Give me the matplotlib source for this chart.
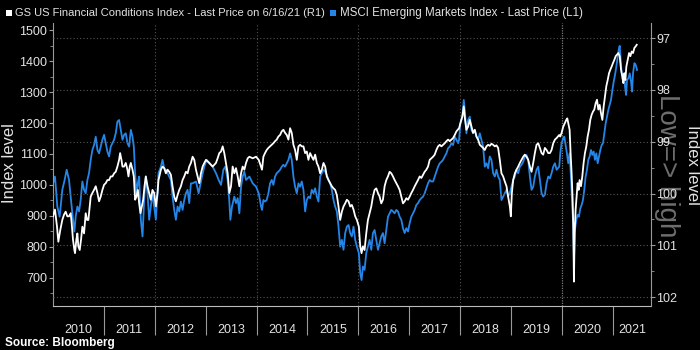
import matplotlib
matplotlib.use("Agg")
import matplotlib.pyplot as plt
from matplotlib.patches import Rectangle
from matplotlib.ticker import MultipleLocator

plt.rcParams['font.family'] = ['Liberation Sans', 'DejaVu Sans']

# MSCI Emerging Markets Index (left axis), dates as decimal years
em_dates = [
    2010.000, 2010.039, 2010.085, 2010.131, 2010.183, 2010.229, 2010.269, 2010.315, 2010.348, 2010.393,
    2010.420, 2010.446, 2010.479, 2010.512, 2010.544, 2010.577, 2010.610, 2010.643, 2010.676, 2010.708,
    2010.741, 2010.774, 2010.807, 2010.840, 2010.873, 2010.905, 2010.938, 2010.971, 2011.004, 2011.037,
    2011.069, 2011.102, 2011.135, 2011.168, 2011.201, 2011.233, 2011.266, 2011.299, 2011.332, 2011.365,
    2011.397, 2011.430, 2011.463, 2011.496, 2011.529, 2011.562, 2011.588, 2011.614, 2011.640, 2011.667,
    2011.693, 2011.726, 2011.759, 2011.791, 2011.824, 2011.857, 2011.890, 2011.922, 2011.955, 2011.988,
    2012.021, 2012.054, 2012.073,
    2012.120, 2012.152, 2012.185, 2012.218, 2012.251, 2012.284, 2012.317, 2012.349, 2012.382, 2012.415,
    2012.448, 2012.481, 2012.513, 2012.546, 2012.579, 2012.612, 2012.645, 2012.677, 2012.710, 2012.743,
    2012.809, 2012.861, 2012.887, 2012.927, 2012.973, 2013.019, 2013.071, 2013.137, 2013.202, 2013.255,
    2013.301, 2013.347, 2013.386, 2013.432, 2013.465, 2013.485, 2013.517, 2013.563, 2013.596, 2013.629,
    2013.662, 2013.695, 2013.727, 2013.760, 2013.793, 2013.859, 2013.924, 2013.990, 2014.042,
    2014.088, 2014.107, 2014.134, 2014.166, 2014.199, 2014.232, 2014.265, 2014.298, 2014.330, 2014.363,
    2014.396, 2014.429, 2014.462, 2014.495, 2014.527, 2014.560, 2014.593, 2014.626, 2014.659, 2014.691,
    2014.724, 2014.757, 2014.790, 2014.823, 2014.855, 2014.888, 2014.921, 2014.954, 2014.987, 2015.019,
    2015.052, 2015.085, 2015.118, 2015.151, 2015.184, 2015.216, 2015.249, 2015.282, 2015.315, 2015.348,
    2015.380, 2015.413, 2015.446, 2015.479, 2015.512, 2015.544, 2015.577, 2015.610, 2015.643, 2015.676,
    2015.708, 2015.741, 2015.774, 2015.807, 2015.840, 2015.872, 2015.905, 2015.938, 2015.971, 2016.010,
    2016.037, 2016.063, 2016.089, 2016.122, 2016.155, 2016.188, 2016.221, 2016.254, 2016.286, 2016.319,
    2016.352, 2016.385, 2016.418, 2016.450, 2016.483, 2016.516, 2016.549, 2016.582, 2016.614, 2016.647,
    2016.680, 2016.713, 2016.746, 2016.778, 2016.811, 2016.844, 2016.877, 2016.910, 2016.943, 2016.975,
    2017.008, 2017.041, 2017.074, 2017.107, 2017.139, 2017.172, 2017.205, 2017.238, 2017.271, 2017.303,
    2017.336, 2017.369, 2017.402, 2017.435, 2017.468, 2017.500, 2017.533, 2017.566, 2017.599, 2017.632,
    2017.664, 2017.697, 2017.730, 2017.763, 2017.796, 2017.829, 2017.861, 2017.894, 2017.927, 2017.960,
    2017.979,
    2018.005, 2018.044, 2018.071, 2018.097, 2018.123, 2018.156, 2018.189, 2018.222, 2018.254, 2018.287,
    2018.320, 2018.353, 2018.386, 2018.418, 2018.451, 2018.484, 2018.517, 2018.550, 2018.582, 2018.615,
    2018.648, 2018.681, 2018.714, 2018.746, 2018.779, 2018.812, 2018.845, 2018.878, 2018.911, 2018.943,
    2018.976, 2019.009, 2019.042, 2019.075, 2019.107, 2019.140, 2019.173, 2019.206, 2019.239, 2019.271,
    2019.304, 2019.337, 2019.370, 2019.403, 2019.436, 2019.468, 2019.501, 2019.534, 2019.567, 2019.600,
    2019.632, 2019.665, 2019.698, 2019.731, 2019.764, 2019.796, 2019.829, 2019.862, 2019.895, 2019.947,
    2019.967, 2019.993, 2020.026, 2020.046, 2020.072, 2020.098, 2020.124, 2020.151, 2020.177, 2020.203,
    2020.223, 2020.236, 2020.256, 2020.282, 2020.308, 2020.334, 2020.361, 2020.387, 2020.413, 2020.439,
    2020.466, 2020.492, 2020.518, 2020.544, 2020.571, 2020.597, 2020.623, 2020.649, 2020.676, 2020.702,
    2020.728, 2020.754, 2020.781, 2020.807, 2020.833, 2020.859, 2020.886, 2020.912, 2020.938, 2020.964,
    2020.991, 2021.017, 2021.043, 2021.069, 2021.096, 2021.115, 2021.135, 2021.155, 2021.174, 2021.201,
    2021.220, 2021.240, 2021.260, 2021.279, 2021.306, 2021.332, 2021.358, 2021.378, 2021.397, 2021.424,
    2021.450, 2021.476,
]
em_level = [
    1005, 1027, 930, 897, 984, 1016, 1049, 1016, 962, 887,
    849, 898, 930, 914, 951, 1011, 984, 973, 1016, 1038,
    1081, 1113, 1129, 1156, 1113, 1102, 1124, 1146, 1162, 1135,
    1108, 1092, 1124, 1135, 1146, 1167, 1205, 1210, 1178, 1146,
    1162, 1167, 1135, 1124, 1178, 1156, 1124, 1038, 973, 1005,
    1027, 887, 833, 951, 1027, 973, 887, 930, 973, 930,
    887, 973, 1038,
    1059, 1081, 1054, 1049, 1038, 1027, 1016, 962, 919, 887,
    930, 914, 946, 919, 951, 973, 984, 941, 1005, 1005,
    1011, 973, 994, 1027, 1059, 1081, 1070, 1059, 1038, 1016,
    1000, 1049, 1059, 1016, 946, 887, 930, 962, 941, 957,
    908, 994, 1027, 1043, 1016, 1027, 1005, 994, 973,
    930, 919, 951, 946, 951, 973, 1005, 1016, 1000, 1027,
    1038, 1043, 1049, 1059, 1065, 1059, 1070, 1081, 1102, 1081,
    1027, 994, 973, 1005, 994, 1011, 984, 914, 951, 962,
    957, 984, 973, 989, 962, 946, 1027, 1038, 1049, 1043,
    1032, 1016, 1005, 984, 951, 930, 914, 865, 800, 822,
    790, 844, 865, 870, 844, 833, 865, 822, 800, 779,
    714, 692, 736, 725, 779, 800, 822, 790, 844, 854,
    822, 790, 811, 833, 844, 811, 854, 897, 908, 919,
    914, 908, 919, 914, 897, 887, 860, 844, 860, 849,
    876, 897, 908, 919, 935, 941, 951, 957, 962, 973,
    989, 1005, 1016, 1011, 1011, 1027, 1043, 1059, 1070, 1075,
    1081, 1092, 1102, 1119, 1124, 1135, 1129, 1156, 1146, 1135,
    1146,
    1199, 1221, 1275, 1232, 1167, 1210, 1221, 1178, 1167, 1178,
    1156, 1146, 1167, 1146, 1124, 1059, 1070, 1054, 1092, 1081,
    1038, 1027, 1049, 1027, 1016, 951, 962, 973, 984, 962,
    973, 994, 1016, 1027, 1049, 1038, 1059, 1065, 1075, 1092,
    1097, 1081, 1027, 984, 994, 1027, 1049, 1059, 1016, 973,
    962, 968, 1005, 1027, 1021, 1038, 1059, 1070, 1049, 1059,
    1102, 1135, 1151, 1156, 1129, 1102, 1070, 1102, 1027, 930,
    865, 757, 854, 887, 903, 897, 924, 935, 951, 984,
    1027, 1049, 1081, 1092, 1113, 1097, 1108, 1081, 1102, 1070,
    1092, 1113, 1129, 1135, 1167, 1199, 1221, 1243, 1259, 1275,
    1307, 1334, 1356, 1383, 1415, 1437, 1450, 1404, 1361, 1334,
    1361, 1318, 1291, 1340, 1345, 1361, 1334, 1302, 1361, 1394,
    1388, 1372,
]

# GS US Financial Conditions Index (right axis, inverted)
fci_dates = [
    2010.000, 2010.039, 2010.079, 2010.105, 2010.144, 2010.183, 2010.216, 2010.249, 2010.282, 2010.315,
    2010.348, 2010.367, 2010.393, 2010.420, 2010.433, 2010.459, 2010.479, 2010.498, 2010.525, 2010.551,
    2010.577, 2010.610, 2010.643, 2010.669, 2010.695, 2010.722, 2010.741, 2010.774, 2010.807, 2010.840,
    2010.873, 2010.905, 2010.938, 2010.971, 2011.004, 2011.037, 2011.069, 2011.102, 2011.135, 2011.168,
    2011.201, 2011.233, 2011.266, 2011.299, 2011.319, 2011.345, 2011.365, 2011.397, 2011.430, 2011.463,
    2011.483, 2011.509, 2011.529, 2011.562, 2011.588, 2011.614, 2011.640, 2011.667, 2011.693, 2011.719,
    2011.745, 2011.772, 2011.798, 2011.824, 2011.857, 2011.890, 2011.922, 2011.955, 2011.988, 2012.021,
    2012.054, 2012.073,
    2012.120, 2012.152, 2012.185, 2012.218, 2012.251, 2012.284, 2012.317, 2012.349, 2012.382, 2012.415,
    2012.448, 2012.481, 2012.513, 2012.546, 2012.579, 2012.612, 2012.645, 2012.677, 2012.710, 2012.743,
    2012.776, 2012.809, 2012.842, 2012.874, 2012.907, 2012.940, 2012.973, 2013.006, 2013.071, 2013.137,
    2013.202, 2013.235, 2013.268, 2013.301, 2013.334, 2013.366, 2013.399, 2013.432, 2013.465, 2013.498,
    2013.530, 2013.563, 2013.596, 2013.629, 2013.662, 2013.695, 2013.727, 2013.760, 2013.793, 2013.826,
    2013.859, 2013.924, 2013.990, 2014.042,
    2014.088, 2014.107, 2014.134, 2014.166, 2014.199, 2014.232, 2014.265, 2014.298, 2014.330, 2014.363,
    2014.396, 2014.429, 2014.462, 2014.495, 2014.527, 2014.560, 2014.593, 2014.626, 2014.659, 2014.691,
    2014.724, 2014.757, 2014.790, 2014.823, 2014.855, 2014.888, 2014.921, 2014.954, 2014.987, 2015.019,
    2015.052, 2015.085, 2015.118, 2015.151, 2015.184, 2015.216, 2015.249, 2015.282, 2015.315, 2015.348,
    2015.380, 2015.413, 2015.446, 2015.479, 2015.512, 2015.544, 2015.577, 2015.610, 2015.643, 2015.676,
    2015.708, 2015.741, 2015.774, 2015.807, 2015.840, 2015.872, 2015.905, 2015.938, 2015.971, 2016.010,
    2016.037, 2016.063, 2016.089, 2016.122, 2016.155, 2016.188, 2016.221, 2016.254, 2016.286, 2016.319,
    2016.352, 2016.385, 2016.418, 2016.450, 2016.483, 2016.516, 2016.549, 2016.582, 2016.614, 2016.647,
    2016.680, 2016.713, 2016.746, 2016.778, 2016.811, 2016.844, 2016.877, 2016.910, 2016.943, 2016.975,
    2017.008, 2017.041, 2017.074, 2017.107, 2017.139, 2017.172, 2017.205, 2017.238, 2017.271, 2017.303,
    2017.336, 2017.369, 2017.402, 2017.435, 2017.468, 2017.500, 2017.533, 2017.566, 2017.599, 2017.632,
    2017.664, 2017.697, 2017.730, 2017.763, 2017.796, 2017.829, 2017.861, 2017.894, 2017.927, 2017.960,
    2017.979,
    2018.005, 2018.044, 2018.071, 2018.097, 2018.123, 2018.156, 2018.189, 2018.222, 2018.254, 2018.287,
    2018.320, 2018.353, 2018.386, 2018.418, 2018.451, 2018.484, 2018.517, 2018.550, 2018.582, 2018.615,
    2018.648, 2018.681, 2018.714, 2018.746, 2018.779, 2018.812, 2018.845, 2018.878, 2018.911, 2018.943,
    2018.976, 2018.996, 2019.016, 2019.042, 2019.075, 2019.107, 2019.140, 2019.173, 2019.206, 2019.239,
    2019.271, 2019.304, 2019.337, 2019.370, 2019.403, 2019.436, 2019.468, 2019.501, 2019.534, 2019.567,
    2019.600, 2019.632, 2019.665, 2019.698, 2019.731, 2019.764, 2019.796, 2019.829, 2019.862, 2019.895,
    2019.947,
    2019.967, 2019.993, 2020.026, 2020.059, 2020.085, 2020.105, 2020.124, 2020.151, 2020.170, 2020.190,
    2020.210, 2020.223, 2020.236, 2020.249, 2020.269, 2020.288, 2020.308, 2020.328, 2020.347, 2020.374,
    2020.400, 2020.426, 2020.452, 2020.479, 2020.505, 2020.531, 2020.557, 2020.584, 2020.610, 2020.636,
    2020.662, 2020.689, 2020.715, 2020.741, 2020.767, 2020.794, 2020.820, 2020.846, 2020.872, 2020.899,
    2020.925, 2020.951, 2020.977, 2021.004, 2021.030, 2021.056, 2021.082, 2021.109, 2021.135, 2021.161,
    2021.187, 2021.207, 2021.227, 2021.246, 2021.266, 2021.292, 2021.319, 2021.345, 2021.371, 2021.397,
    2021.424, 2021.450, 2021.470,
]
fci_level = [
    100.44, 100.31, 100.64, 100.93, 100.70, 100.51, 100.41, 100.35, 100.44, 100.44,
    100.38, 100.57, 100.89, 101.09, 101.15, 100.89, 100.77, 101.02, 101.09, 100.89,
    100.64, 100.77, 100.38, 100.51, 100.51, 100.25, 100.06, 99.99, 99.93, 99.86,
    99.99, 100.15, 100.06, 99.93, 99.83, 99.80, 99.74, 99.74, 99.67, 99.67,
    99.61, 99.58, 99.48, 99.35, 99.22, 99.35, 99.48, 99.48, 99.41, 99.54,
    99.67, 99.48, 99.41, 99.54, 99.67, 100.12, 100.06, 99.93, 100.19, 100.38,
    100.25, 100.12, 99.86, 99.67, 99.86, 99.99, 100.12, 99.93, 99.99, 100.25,
    99.99, 99.74,
    99.54, 99.48, 99.51, 99.61, 99.54, 99.58, 99.64, 99.86, 100.06, 100.15,
    100.03, 99.93, 99.86, 99.74, 99.67, 99.58, 99.61, 99.48, 99.41, 99.29,
    99.35, 99.54, 99.67, 99.80, 99.61, 99.48, 99.41, 99.35, 99.41, 99.48,
    99.41, 99.32, 99.22, 99.19, 99.09, 99.22, 99.41, 99.61, 99.99, 99.86,
    99.48, 99.61, 99.51, 99.67, 99.86, 99.61, 99.48, 99.54, 99.41, 99.32,
    99.29, 99.32, 99.29, 99.35,
    99.48, 99.54, 99.29, 99.22, 99.16, 99.12, 99.09, 99.06, 99.03, 98.99,
    98.96, 98.90, 98.87, 98.80, 98.77, 98.83, 98.87, 98.96, 98.74, 98.83,
    99.06, 99.16, 99.35, 99.09, 99.06, 99.09, 99.09, 99.22, 99.19, 99.35,
    99.22, 99.29, 99.35, 99.25, 99.41, 99.48, 99.61, 99.54, 99.41, 99.48,
    99.67, 99.74, 99.80, 99.86, 99.90, 99.93, 100.03, 100.25, 100.51, 100.35,
    100.25, 100.19, 100.12, 100.15, 100.25, 100.22, 100.31, 100.44, 100.51, 100.64,
    101.02, 101.15, 101.02, 101.09, 100.77, 100.51, 100.38, 100.25, 100.06, 99.93,
    99.90, 99.99, 100.06, 100.19, 100.12, 99.86, 99.74, 99.67, 99.58, 99.61,
    99.67, 99.74, 99.80, 99.86, 99.93, 100.06, 100.19, 100.15, 100.09, 100.12,
    100.06, 99.99, 99.93, 99.86, 99.80, 99.74, 99.67, 99.70, 99.64, 99.58,
    99.54, 99.48, 99.35, 99.32, 99.29, 99.25, 99.16, 99.09, 99.06, 99.09,
    99.06, 99.03, 98.99, 98.96, 98.99, 98.96, 98.93, 98.87, 98.80, 98.76,
    98.74,
    98.64, 98.51, 98.32, 98.58, 98.77, 98.71, 98.58, 98.71, 98.83, 98.77,
    98.90, 98.96, 99.06, 99.09, 99.12, 99.16, 99.09, 99.06, 99.08, 99.04,
    99.06, 99.09, 99.07, 99.12, 99.35, 99.61, 99.67, 99.77, 99.86, 100.06,
    100.25, 100.44, 99.99, 99.74, 99.61, 99.54, 99.48, 99.41, 99.35, 99.29,
    99.25, 99.29, 99.35, 99.48, 99.58, 99.41, 99.22, 99.06, 99.03, 99.12,
    99.22, 99.25, 99.12, 99.16, 99.22, 99.22, 99.16, 99.03, 98.96, 98.93,
    98.87,
    98.90, 98.83, 98.71, 98.64, 98.58, 98.55, 98.64, 98.77, 99.22, 99.61,
    100.12, 100.64, 101.70, 100.77, 100.31, 100.06, 99.80, 99.93, 99.74, 99.86,
    99.67, 99.41, 99.22, 99.09, 98.90, 98.77, 98.58, 98.48, 98.42, 98.38,
    98.26, 98.19, 98.38, 98.29, 98.45, 98.58, 98.32, 98.13, 97.93, 97.81,
    97.68, 97.61, 97.55, 97.48, 97.42, 97.35, 97.32, 97.29, 97.35, 97.61,
    97.74, 97.87, 97.68, 97.81, 97.55, 97.42, 97.29, 97.35, 97.26, 97.29,
    97.19, 97.16, 97.13,
]

year_labels = ['2010', '2011', '2012', '2013', '2014', '2015',
               '2016', '2017', '2018', '2019', '2020', '2021']
em_name = 'MSCI Emerging Markets Index - Last Price (L1)'
fci_name = 'GS US Financial Conditions Index - Last Price on 6/16/21 (R1)'

BLUE = '#2486e8'
TXT = '#e3e3e3'
AXC = '#9a9a9a'
GRID = '#555555'

fig = plt.figure(figsize=(7, 3.5), dpi=100, facecolor='black')
ax = fig.add_axes([0.0757, 0.1257, 0.8543, 0.8086])
ax.set_facecolor('black')
ax2 = ax.twinx()

# vertical dotted grid every two years (2020 a little brighter, as in the original)
for yr in [2012, 2014, 2016, 2018]:
    ax.axvline(yr, color=GRID, lw=0.8, ls=(0, (1, 2)), zorder=0)
ax.axvline(2020, color='#7a7a7a', lw=0.9, ls=(0, (1, 1)), zorder=0)

ax.plot(em_dates, em_level, color=BLUE, lw=1.3, zorder=2)
ax2.plot(fci_dates, fci_level, color='white', lw=1.3, zorder=2)

ax.set_xlim(2010, 2021.75)
ax.set_ylim(608, 1524)
ax2.set_ylim(102.17, 96.71)

# left axis
ax.yaxis.set_major_locator(MultipleLocator(100))
ax.yaxis.set_minor_locator(MultipleLocator(50))
ax.tick_params(axis='y', which='major', colors=AXC, labelcolor=TXT, direction='out',
               length=3, width=0.8, labelsize=9, pad=1)
ax.tick_params(axis='y', which='minor', colors=AXC, direction='out', length=2, width=0.6)

# right axis
ax2.yaxis.set_major_locator(MultipleLocator(1))
ax2.yaxis.set_minor_locator(MultipleLocator(0.5))
ax2.tick_params(axis='y', which='major', colors=AXC, labelcolor=TXT, direction='out',
                length=3, width=0.8, labelsize=9, pad=1)
ax2.tick_params(axis='y', which='minor', colors=AXC, direction='out', length=2, width=0.6)
ax2.yaxis.grid(True, which='major', color=GRID, lw=0.8, ls=(0, (1, 2)))

# x axis: long separators between years, labels centred in each year
ax.set_xticks(list(range(2011, 2022)))
ax.set_xticklabels([])
ax.tick_params(axis='x', which='major', colors=AXC, direction='out', length=21, width=0.8)
mids = [y + 0.5 for y in range(2010, 2021)] + [2021.375]
ax.set_xticks(mids, minor=True)
ax.set_xticklabels(year_labels, minor=True)
ax.tick_params(axis='x', which='minor', length=0, labelcolor=TXT, labelsize=9, pad=13)

for a in (ax, ax2):
    a.spines['top'].set_visible(False)
ax.spines['right'].set_visible(False)
ax2.spines['left'].set_visible(False)
ax2.spines['bottom'].set_visible(False)
ax.spines['left'].set_color(AXC)
ax.spines['bottom'].set_color('#bbbbbb')
ax2.spines['right'].set_color(AXC)

# legend
fig.patches.append(Rectangle((6 / 700, 1 - 16 / 350), 6 / 700, 6 / 350,
                             transform=fig.transFigure, facecolor='white', edgecolor='none'))
fig.text(15 / 700, 1 - 13 / 350, fci_name, color=TXT, fontsize=8, va='center')
fig.patches.append(Rectangle((330 / 700, 1 - 16 / 350), 6 / 700, 6 / 350,
                             transform=fig.transFigure, facecolor=BLUE, edgecolor='none'))
fig.text(340 / 700, 1 - 13 / 350, em_name, color=TXT, fontsize=8.3, va='center')

# axis titles
fig.text(10 / 700, 0.534, 'Index level', rotation=90, color=TXT, fontsize=12,
         ha='center', va='center')
fig.text(692 / 700, 0.529, 'Index level', rotation=270, color=TXT, fontsize=12,
         ha='center', va='center')
# the grey direction hint sits behind the right tick labels, as in the original
fig.text(667 / 700, 0.526, 'Low=> high', rotation=270, color='#6e6e6e', fontsize=20,
         ha='center', va='center', zorder=-1)

fig.text(5 / 700, 1 - 343 / 350, 'Source: Bloomberg', color='white', fontsize=8.5,
         fontweight='bold', va='center')

fig.savefig('out.png', dpi=100, facecolor='black')
